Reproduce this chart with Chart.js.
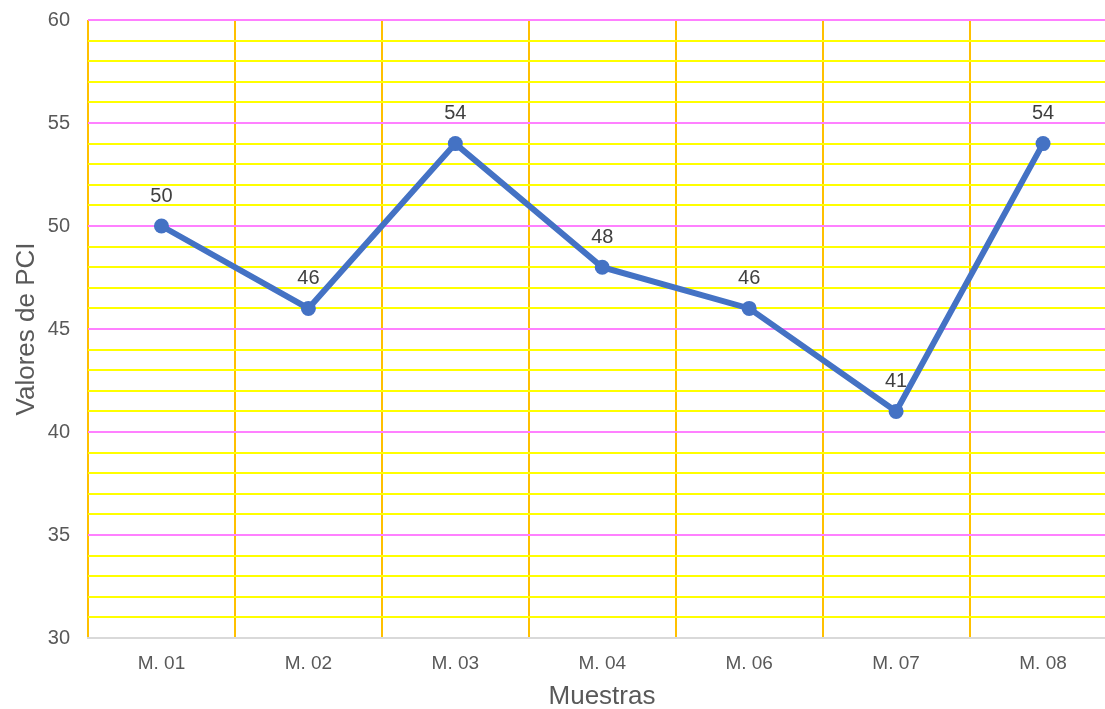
<!DOCTYPE html>
<html>
<head>
<meta charset="utf-8">
<script src="https://cdn.jsdelivr.net/npm/chart.js@4/dist/chart.umd.min.js"></script>
<style>
  html, body { margin: 0; padding: 0; background: #fff; overflow: hidden; }
  #wrap { width: 1124px; height: 709px; }
</style>
</head>
<body>
<div id="wrap"><canvas id="c" width="1124" height="709"></canvas></div>
<script>
const categories = ['M. 01', 'M. 02', 'M. 03', 'M. 04', 'M. 06', 'M. 07', 'M. 08'];
const pciValues = [50, 46, 54, 48, 46, 41, 54];
const yMin = 30, yMax = 60, yMajorStep = 5;

const FONT = "'Liberation Sans', Arial, sans-serif";

// Chart area bounds on the canvas
const AREA = { left: 88, top: 20, bottom: 638 };

// Value labels drawn above each point
const valueLabels = {
  id: 'valueLabels',
  afterDatasetsDraw(chart) {
    const ctx = chart.ctx;
    const meta = chart.getDatasetMeta(0);
    ctx.save();
    ctx.font = '20px ' + FONT;
    ctx.fillStyle = '#404040';
    ctx.textAlign = 'center';
    ctx.textBaseline = 'middle';
    meta.data.forEach((pt, i) => {
      ctx.fillText(String(pciValues[i]), pt.x, pt.y - 30);
    });
    ctx.restore();
  }
};

// Axis titles placed around the chart area
const axisTitles = {
  id: 'axisTitles',
  afterDraw(chart) {
    const ctx = chart.ctx;
    const a = chart.chartArea;
    ctx.save();
    ctx.font = '26px ' + FONT;
    ctx.fillStyle = '#595959';
    ctx.textAlign = 'center';
    ctx.textBaseline = 'middle';
    ctx.fillText('Muestras', 602, 697);
    ctx.translate(27, (a.top + a.bottom) / 2);
    ctx.rotate(-Math.PI / 2);
    ctx.fillText('Valores de PCI', 0, 0);
    ctx.restore();
  }
};

function noEdgePadding(scale) {
  scale.paddingTop = 0;
  scale.paddingBottom = 0;
  scale.paddingLeft = 0;
  scale.paddingRight = 0;
}

new Chart(document.getElementById('c'), {
  type: 'line',
  data: {
    labels: categories,
    datasets: [{
      data: pciValues,
      borderColor: '#4472C4',
      backgroundColor: '#4472C4',
      borderWidth: 6,
      pointRadius: 7.5,
      pointHoverRadius: 7.5,
      pointBorderWidth: 0,
      tension: 0
    }]
  },
  options: {
    responsive: false,
    animation: false,
    layout: { padding: { top: AREA.top, right: 0, left: 0, bottom: 0 } },
    plugins: { legend: { display: false }, tooltip: { enabled: false } },
    scales: {
      x: {
        offset: true,
        grid: {
          offset: true,
          color: '#FFC000',
          lineWidth: 2,
          drawTicks: false
        },
        border: { display: true, color: '#D9D9D9', width: 2 },
        ticks: {
          color: '#595959',
          font: { family: FONT, size: 19 },
          padding: 14,
          maxRotation: 0
        },
        afterFit(scale) { scale.height = 709 - AREA.bottom; noEdgePadding(scale); }
      },
      y: {
        min: yMin,
        max: yMax,
        ticks: {
          stepSize: 1,
          autoSkip: false,
          color: '#595959',
          font: { family: FONT, size: 20 },
          padding: 18,
          callback: (v) => (v % yMajorStep === 0 ? v : '')
        },
        grid: {
          drawTicks: false,
          lineWidth: 2,
          color: (ctx) => (ctx.tick && ctx.tick.value % yMajorStep === 0 ? '#FF80FF' : '#FFFF00')
        },
        border: { display: false },
        afterFit(scale) { scale.width = AREA.left; noEdgePadding(scale); }
      }
    }
  },
  plugins: [valueLabels, axisTitles]
});
</script>
</body>
</html>
